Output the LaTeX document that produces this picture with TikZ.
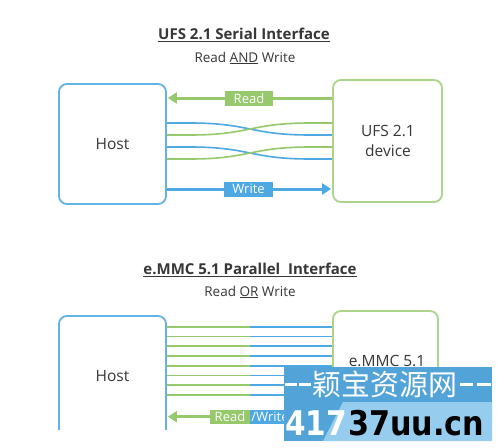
\documentclass[tikz,border=0pt]{standalone}
\usepackage{fontspec}
\setmainfont{Open Sans}
\newfontfamily\cjk{Noto Sans CJK SC}
\newfontfamily\wmfont{DejaVu Sans}
\usetikzlibrary{arrows.meta}
\definecolor{blueC}{RGB}{78,168,226}
\definecolor{greenC}{RGB}{150,200,108}
\definecolor{blueBox}{RGB}{98,180,228}
\definecolor{greenBox}{RGB}{172,212,138}
\definecolor{txt}{RGB}{55,55,55}
\definecolor{wmblue}{RGB}{82,163,216}
\definecolor{wmlight}{RGB}{150,205,238}
\begin{document}
\begin{tikzpicture}[x=1pt,y=-1pt,
  box/.style={draw,line width=1.8pt,rounded corners=8pt,inner sep=0pt},
  lbl/.style={text=white,font=\fontsize{13}{14}\selectfont,inner sep=0pt,minimum height=15pt},
  wire/.style={line width=1.6pt},
  arr/.style={line width=3pt,-{Triangle[length=9pt,width=11pt]},shorten >=1pt},
  boxtxt/.style={text=txt,font=\fontsize{15.5}{20}\selectfont,align=center},
  ttl/.style={text=txt,font=\fontsize{15}{17}\selectfont\bfseries},
  sub/.style={text=txt,font=\fontsize{13.5}{15}\selectfont}
]
\useasboundingbox (0,0) rectangle (497,447);
\fill[white] (0,0) rectangle (497,447);

% ---------- top: UFS ----------
\node[ttl] (t1) at (244,35) {\underline{UFS 2.1 Serial Interface}};
\node[sub] (s1) at (245,58) {Read \underline{AND} Write};

\node[box,draw=blueBox,minimum width=107pt,minimum height=120pt] (host) at (112.5,144) {};
\node[box,draw=greenBox,minimum width=109pt,minimum height=122pt] (dev) at (387.5,141) {};
\node[boxtxt] (hosttxt) at (host.center) {Host};
\node[boxtxt] (devtxt) at (388,141) {UFS 2.1\\device};

\draw[arr,greenC] (dev.west |- 0,98) -- (host.east |- 0,98);
\node[lbl,fill=greenC,minimum width=48pt] (rd) at (249,98.5) {Read};

\draw[wire,blueC] (host.east |- 0,123) -- (190,123) .. controls (250,123) and (250,135) .. (310,135) -- (dev.west |- 0,135);
\draw[wire,greenC] (host.east |- 0,135) -- (190,135) .. controls (250,135) and (250,123) .. (310,123) -- (dev.west |- 0,123);
\draw[wire,blueC] (host.east |- 0,147) -- (190,147) .. controls (250,147) and (250,159) .. (310,159) -- (dev.west |- 0,159);
\draw[wire,greenC] (host.east |- 0,159) -- (190,159) .. controls (250,159) and (250,147) .. (310,147) -- (dev.west |- 0,147);

\draw[arr,blueC] (host.east |- 0,189) -- (dev.west |- 0,189);
\node[lbl,fill=blueC,minimum width=49pt] (wr) at (248.5,189) {Write};

% ---------- bottom: eMMC ----------
\node[ttl] (t2) at (250,270) {\underline{e.MMC 5.1 Parallel\ \ Interface}};
\node[sub] (s2) at (250,292) {Read \underline{OR} Write};

\begin{scope}
\clip (0,0) rectangle (497,429);
\node[box,draw=blueBox,minimum width=107pt,minimum height=150pt] (host2) at (112.5,391) {};
\node[box,draw=greenBox,minimum width=105pt,minimum height=155pt] (dev2) at (385.5,388.5) {};
\foreach \i in {0,...,7}{
  \pgfmathsetmacro{\yy}{326.7+9.75*\i}
  \draw[wire,greenC] (host2.east |- 0,\yy) -- (250,\yy);
  \draw[wire,blueC] (250,\yy) -- (dev2.west |- 0,\yy);
}
\draw[arr,greenC] (dev2.west |- 0,416.7) -- (host2.east |- 0,416.7);
\end{scope}
\node[boxtxt] (host2txt) at (112.5,376) {Host};
\node[boxtxt] (dev2txt) at (387,361) {e.MMC 5.1};
\node[lbl,fill=greenC,minimum width=40pt,minimum height=14pt] (rd2) at (230,416.5) {Read};
\node[lbl,fill=blueC,minimum width=40pt,minimum height=14pt] (wr2) at (270,416.5) {/Write};

% ---------- watermark ----------
\fill[wmblue] (284,367) rectangle (492,441);
\fill[wmlight] (343,402) -- (492,402) -- (492,441) -- (323,441) -- cycle;
\fill[white] (285,383) rectangle (297,386);
\fill[white] (299,383) rectangle (311,386);
\fill[white] (460,383) rectangle (473,386);
\fill[white] (477,383) rectangle (491,386);
\node[text=white,font=\cjk\fontsize{29}{30}\selectfont,inner sep=0pt] (wm1) at (385,384) {颖宝资源网};
\node[text=white,font=\wmfont\bfseries\fontsize{34}{36}\selectfont,inner sep=0pt,anchor=west,xscale=0.87] (wm2) at (285,423) {417};
\node[text=black,font=\wmfont\bfseries\fontsize{34}{36}\selectfont,inner sep=0pt,anchor=west,xscale=0.89] (wm3) at (348,423) {37uu.cn};
\end{tikzpicture}
\end{document}
